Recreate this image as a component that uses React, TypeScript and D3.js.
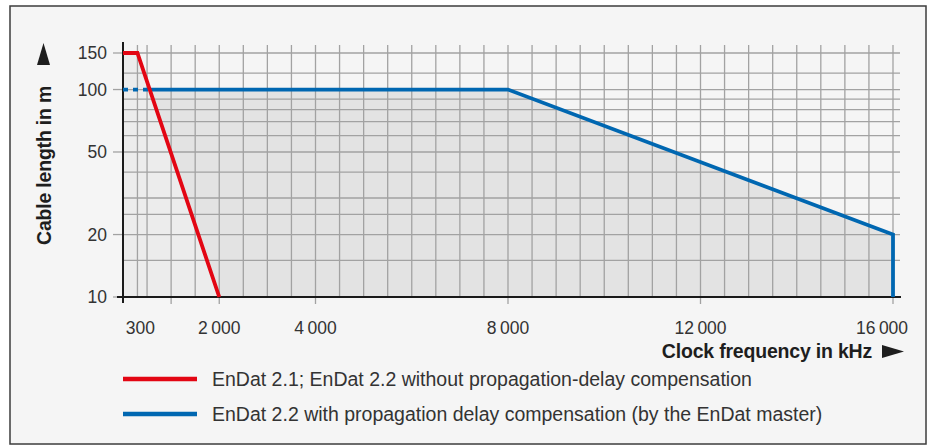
import React from 'react';
import * as d3 from 'd3';

// chart values
const xTickLabels = [300, 2000, 4000, 8000, 12000, 16000];
const xTickMarks = [1000, 2000, 4000, 8000, 12000, 16000];
const xGridExtra = [300];
const yGrid = [15, 20, 25, 30, 40, 50, 60, 70, 80, 90, 100, 120, 150];
const yTickLabels = [10, 20, 50, 100, 150];

const redSeries = [
  { f: 0, len: 150 },
  { f: 300, len: 150 },
  { f: 2000, len: 10 },
];
const blueDashed = [
  { f: 0, len: 100 },
  { f: 550, len: 100 },
];
const blueSolid = [
  { f: 550, len: 100 },
  { f: 8000, len: 100 },
  { f: 16000, len: 20 },
  { f: 16000, len: 10 },
];

const legendItems = [
  { label: 'EnDat 2.1; EnDat 2.2 without propagation-delay compensation', color: '#e30613' },
  { label: 'EnDat 2.2 with propagation delay compensation (by the EnDat master)', color: '#0067b1' },
];

type Pt = { f: number; len: number };

const W = 930;
const H = 447;
const FONT = "'Liberation Sans', Arial, sans-serif";

const fmt = (v: number) => (v >= 1000 ? `${Math.floor(v / 1000)}\u2009000` : `${v}`);
// small nudges so the end labels sit where the original puts them
const labelShift = (v: number) => (v === 300 ? 3 : v === 16000 ? -11 : 0);

const App: React.FC = () => {
  const x = d3.scaleLinear().domain([0, 16000]).range([123, 893]);
  const y = d3.scaleLog().domain([10, 150]).range([297, 53]);

  const line = d3.line<Pt>().x(d => x(d.f)).y(d => y(d.len));
  const area = d3.area<Pt>().x(d => x(d.f)).y0(y(10)).y1(d => y(d.len));

  const xGrid = [...xGridExtra, ...d3.range(500, 16001, 500)];
  const gridColor = '#a2a2a2';

  return (
    <svg width={W} height={H} style={{ position: 'absolute', left: 0, top: 0 }}>
      <rect x={0} y={0} width={W} height={H} fill="#fff" />
      <rect x={10} y={6} width={916} height={438} fill="#f5f5f5" stroke="#3c3c3c" strokeWidth={1.5} />

      {/* shaded areas */}
      <path d={area([...blueDashed, ...blueSolid.slice(1)]) || ''} fill="#e3e3e3" />
      <path d={area(redSeries) || ''} fill="#ececec" />

      {/* grid */}
      {xGrid.map(v => (
        <line key={'vx' + v} x1={x(v)} x2={x(v)} y1={45} y2={y(10)} stroke={gridColor} strokeWidth={1.3} />
      ))}
      {yGrid.map(v => (
        <line key={'hy' + v} x1={x(0)} x2={900} y1={y(v)} y2={y(v)} stroke={gridColor} strokeWidth={1.3} />
      ))}

      {/* y ticks */}
      {yTickLabels.map(v => (
        <g key={'yt' + v}>
          <line x1={113} x2={x(0)} y1={y(v)} y2={y(v)} stroke={gridColor} strokeWidth={1.3} />
          <text x={107} y={y(v) + 6} textAnchor="end" fontFamily={FONT} fontSize={17.5} fill="#333">
            {v}
          </text>
        </g>
      ))}

      {/* x ticks */}
      {xTickMarks.map(v => (
        <line key={'xm' + v} x1={x(v)} x2={x(v)} y1={y(10)} y2={y(10) + 7} stroke={gridColor} strokeWidth={1.3} />
      ))}
      {xTickLabels.map(v => (
        <text key={'xl' + v} x={x(v) + labelShift(v)} y={334} textAnchor="middle" fontFamily={FONT} fontSize={17.5} fill="#333">
          {fmt(v)}
        </text>
      ))}

      {/* axes */}
      <line x1={x(0)} x2={x(0)} y1={42} y2={303} stroke="#1a1a1a" strokeWidth={2} />
      <line x1={117} x2={901} y1={y(10)} y2={y(10)} stroke="#1a1a1a" strokeWidth={2.2} />

      {/* series */}
      <path d={line(blueDashed) || ''} fill="none" stroke="#0067b1" strokeWidth={3.8} strokeDasharray="5,5" />
      <path d={line(blueSolid) || ''} fill="none" stroke="#0067b1" strokeWidth={3.8} strokeLinejoin="miter" />
      <path d={line(redSeries) || ''} fill="none" stroke="#e30613" strokeWidth={3.8} />

      {/* axis titles */}
      <text
        transform="translate(51,245) rotate(-90)"
        fontFamily={FONT}
        fontWeight="bold"
        fontSize={19.5}
        letterSpacing={-0.2}
        fill="#1e1e1e"
      >
        Cable length in m
      </text>
      <path d="M37,65 L50,65 L43.5,43 Z" fill="#1e1e1e" />

      <text x={872} y={358} textAnchor="end" fontFamily={FONT} fontWeight="bold" fontSize={19.5} letterSpacing={-0.2} fill="#1e1e1e">
        Clock frequency in kHz
      </text>
      <path d="M882,345 L882,358 L904,351.5 Z" fill="#1e1e1e" />

      {/* legend */}
      {legendItems.map((d, i) => (
        <g key={d.label} transform={`translate(0,${379 + i * 35})`}>
          <line x1={123} x2={197} y1={0} y2={0} stroke={d.color} strokeWidth={4.5} />
          <text x={212} y={7} fontFamily={FONT} fontSize={19.5} fill="#333">
            {d.label}
          </text>
        </g>
      ))}
    </svg>
  );
};

export default App;
